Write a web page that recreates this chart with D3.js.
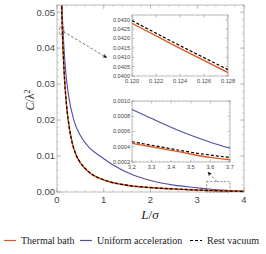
<!DOCTYPE html>
<html><head><meta charset="utf-8">
<script src="https://cdn.jsdelivr.net/npm/d3@7"></script>
<style>body{margin:0;background:#fff}svg{display:block}</style>
</head><body>
<script>
// ---- data ----
const seriesNames = ["Thermal bath", "Uniform acceleration", "Rest vacuum"];
const xTicksMain = [0, 1, 2, 3, 4];
const yTicksMain = [0.00, 0.01, 0.02, 0.03, 0.04, 0.05];
const restL  = [0.09, 0.1, 0.12, 0.15, 0.2, 0.235, 0.3, 0.42, 0.5, 0.7, 1.0, 1.5, 2.0, 2.5, 3.0, 3.2, 3.5, 3.7, 4.0];
const restC  = [0.0572, 0.0514, 0.0429, 0.0341, 0.0247, 0.0205, 0.0152, 0.0100, 0.0082, 0.0054, 0.0034, 0.00189, 0.00125, 0.00085, 0.00056, 0.00047, 0.00034, 0.00026, 0.00018];
const thermC = [0.0570, 0.0512, 0.0428, 0.0340, 0.0246, 0.0204, 0.0151, 0.0099, 0.0081, 0.0053, 0.00335, 0.00185, 0.00121, 0.00082, 0.00053, 0.000445, 0.00031, 0.00023, 0.00016];
const unifL  = [0.095, 0.107, 0.15, 0.2, 0.25, 0.36, 0.5, 0.7, 0.92, 1.2, 1.63, 2.0, 2.5, 3.0, 3.2, 3.5, 3.7, 4.0];
const unifC  = [0.0575, 0.052, 0.0398, 0.0317, 0.0266, 0.0200, 0.0157, 0.0122, 0.0100, 0.0075, 0.0047, 0.0032, 0.0019, 0.00118, 0.00089, 0.00057, 0.00038, 0.00022];
// inset 1
const in1X = [0.120, 0.124, 0.128];
const in1Rest = [0.04295, 0.04162, 0.04034];
const in1Therm = [0.04281, 0.04147, 0.04018];
const in1XTicks = [0.120, 0.122, 0.124, 0.126, 0.128];
const in1YTicks = [0.0400, 0.0405, 0.0410, 0.0415, 0.0420, 0.0425, 0.0430];
// inset 2
const in2X = [3.2, 3.3, 3.45, 3.6, 3.7];
const in2Unif = [0.00089, 0.00077, 0.00060, 0.00046, 0.00038];
const in2Rest = [0.000466, 0.00042, 0.00035, 0.00029, 0.00026];
const in2Therm = [0.000445, 0.00040, 0.00033, 0.00026, 0.00023];
const in2XTicks = [3.2, 3.3, 3.4, 3.5, 3.6, 3.7];
const in2YTicks = [0.0002, 0.0004, 0.0006, 0.0008, 0.0010];

const colors = {therm:"#E0581E", unif:"#4E4EA6", rest:"#000"};

const W=266,H=254;
const svg=d3.select("body").append("svg").attr("width",W).attr("height",H);
const sans="'Liberation Sans', Arial, sans-serif", serif="'Liberation Serif', serif";

function framePlot(g, x, y, xt, yt, opts){
  const [x0,x1]=x.range(), [y0,y1]=y.range();
  svg.append("clipPath").attr("id",opts.clip).append("rect").attr("x",x0).attr("y",y1).attr("width",x1-x0).attr("height",y0-y1);
  g.append("rect").attr("x",x0).attr("y",y1).attr("width",x1-x0).attr("height",y0-y1).attr("fill","#fff").attr("stroke","#aaa").attr("stroke-width",0.8);
  const tk=opts.tick, mt=opts.minorTick;
  const xd=x.domain(), yd=y.domain();
  d3.range(Math.ceil(xd[0]/opts.xMinor-1e-6)*opts.xMinor, xd[1]+1e-9, opts.xMinor).forEach(v=>{const px=x(v);
    g.append("line").attr("x1",px).attr("x2",px).attr("y1",y0).attr("y2",y0-mt).attr("stroke","#aaa").attr("stroke-width",0.5);
    g.append("line").attr("x1",px).attr("x2",px).attr("y1",y1).attr("y2",y1+mt).attr("stroke","#aaa").attr("stroke-width",0.5);});
  d3.range(Math.ceil(yd[0]/opts.yMinor-1e-6)*opts.yMinor, yd[1]+1e-12, opts.yMinor).forEach(v=>{const py=y(v);
    g.append("line").attr("y1",py).attr("y2",py).attr("x1",x0).attr("x2",x0+mt).attr("stroke","#aaa").attr("stroke-width",0.5);
    g.append("line").attr("y1",py).attr("y2",py).attr("x1",x1).attr("x2",x1-mt).attr("stroke","#aaa").attr("stroke-width",0.5);});
  xt.forEach(v=>{const px=x(v);
    g.append("line").attr("x1",px).attr("x2",px).attr("y1",y0).attr("y2",y0-tk).attr("stroke","#999").attr("stroke-width",0.6);
    g.append("line").attr("x1",px).attr("x2",px).attr("y1",y1).attr("y2",y1+tk).attr("stroke","#999").attr("stroke-width",0.6);
    g.append("text").attr("x",px).attr("y",y0+opts.fs+1).attr("text-anchor","middle").attr("font-family",sans).attr("font-size",opts.fs).attr("fill","#444").text(opts.xf(v));
  });
  yt.forEach(v=>{const py=y(v);
    g.append("line").attr("y1",py).attr("y2",py).attr("x1",x0).attr("x2",x0+tk).attr("stroke","#999").attr("stroke-width",0.6);
    g.append("line").attr("y1",py).attr("y2",py).attr("x1",x1).attr("x2",x1-tk).attr("stroke","#999").attr("stroke-width",0.6);
    g.append("text").attr("x",x0-2).attr("y",py+opts.fs*0.35).attr("text-anchor","end").attr("font-family",sans).attr("font-size",opts.fs).attr("fill","#444").text(opts.yf(v));
  });
}
function curve(g,x,y,xs,ys,color,dash,w,clip){
  const line=d3.line().x(d=>x(d[0])).y(d=>y(d[1])).curve(d3.curveMonotoneX);
  g.append("path").attr("d",line(xs.map((v,i)=>[v,ys[i]]))).attr("fill","none").attr("stroke",color).attr("stroke-width",w)
   .attr("stroke-dasharray",dash||null).attr("clip-path",`url(#${clip})`);
}

// main
const x=d3.scaleLinear().domain([0,4]).range([57,244]);
const y=d3.scaleLinear().domain([0,0.052]).range([192,5]);
const gm=svg.append("g");
framePlot(gm,x,y,xTicksMain,yTicksMain,{clip:"cm",tick:4,minorTick:2,fs:9.5,xMinor:0.2,yMinor:0.002,xf:d=>d3.format("d")(d),yf:d3.format(".2f")});
curve(gm,x,y,unifL,unifC,colors.unif,null,1.1,"cm");
curve(gm,x,y,restL,thermC,colors.therm,null,1.6,"cm");
curve(gm,x,y,restL,restC,colors.rest,"3,2",1.2,"cm");

// markers & arrows
svg.append("defs").append("marker").attr("id","ah").attr("viewBox","0 0 10 10").attr("refX",9).attr("refY",5)
  .attr("markerWidth",6).attr("markerHeight",6).attr("orient","auto").append("path").attr("d","M0,0L10,5L0,10L3,5z").attr("fill","#000");
gm.append("rect").attr("x",x(0.05)).attr("y",y(0.0458)).attr("width",x(0.15)-x(0.05)).attr("height",y(0.0438)-y(0.0458)).attr("fill","none").attr("stroke","#444").attr("stroke-width",0.6).attr("stroke-dasharray","2,1.5");
gm.append("line").attr("x1",x(0.14)).attr("y1",y(0.0446)).attr("x2",x(1.06)).attr("y2",y(0.0374)).attr("stroke","#333").attr("stroke-width",0.7).attr("stroke-dasharray","2.5,2").attr("marker-end","url(#ah)");
gm.append("rect").attr("x",x(3.2)).attr("y",y(0.0029)).attr("width",x(3.7)-x(3.2)).attr("height",y(0)-y(0.0029)).attr("fill","none").attr("stroke","#444").attr("stroke-width",0.6).attr("stroke-dasharray","2,1.5");
gm.append("line").attr("x1",x(3.42)).attr("y1",y(0.0029)).attr("x2",x(3.23)).attr("y2",y(0.0055)).attr("stroke","#333").attr("stroke-width",0.7).attr("stroke-dasharray","2.5,2").attr("marker-end","url(#ah)");

// inset 1
const x1s=d3.scaleLinear().domain([0.120,0.128]).range([132,228]);
const y1s=d3.scaleLinear().domain([0.0400,0.04325]).range([76,15]);
const g1=svg.append("g");
framePlot(g1,x1s,y1s,in1XTicks,in1YTicks,{clip:"c1",tick:2.5,minorTick:1.3,fs:5.6,xMinor:0.0005,yMinor:0.0001,xf:d3.format(".3f"),yf:d3.format(".4f")});
curve(g1,x1s,y1s,in1X,in1Therm,colors.therm,null,1.4,"c1");
curve(g1,x1s,y1s,in1X,in1Rest,colors.rest,"3,2",1.2,"c1");

// inset 2
const x2s=d3.scaleLinear().domain([3.2,3.7]).range([132,230]);
const y2s=d3.scaleLinear().domain([0.0002,0.0010]).range([162,101]);
const g2=svg.append("g");
framePlot(g2,x2s,y2s,in2XTicks,in2YTicks,{clip:"c2",tick:2.5,minorTick:1.3,fs:5.6,xMinor:0.02,yMinor:0.00005,xf:d3.format(".1f"),yf:d3.format(".4f")});
curve(g2,x2s,y2s,in2X,in2Unif,colors.unif,null,1.1,"c2");
curve(g2,x2s,y2s,in2X,in2Therm,colors.therm,null,1.4,"c2");
curve(g2,x2s,y2s,in2X,in2Rest,colors.rest,"3,2",1.2,"c2");

// axis labels
svg.append("text").attr("x",150).attr("y",219).attr("text-anchor","middle").attr("font-family",serif).attr("font-style","italic").attr("font-size",13).attr("fill","#222")
  .html("L<tspan font-style='normal'>/</tspan>σ");
svg.append("text").attr("transform","translate(34,100) rotate(-90)").attr("text-anchor","middle").attr("font-family",serif).attr("font-size",12).attr("fill","#222")
  .html("<tspan font-style='italic'>C</tspan>/λ<tspan dy='-4' font-size='8'>2</tspan>");

// legend
const legend=[{n:seriesNames[0],c:colors.therm,d:null,x:4},{n:seriesNames[1],c:colors.unif,d:null,x:80},{n:seriesNames[2],c:colors.rest,d:"3,2",x:190}];
legend.forEach(l=>{
  svg.append("line").attr("x1",l.x).attr("x2",l.x+12).attr("y1",240.5).attr("y2",240.5).attr("stroke",l.c).attr("stroke-width",1.2).attr("stroke-dasharray",l.d);
  svg.append("text").attr("x",l.x+17).attr("y",244).attr("font-family",serif).attr("font-size",10).attr("fill","#222").text(l.n);
});
</script>
</body></html>
